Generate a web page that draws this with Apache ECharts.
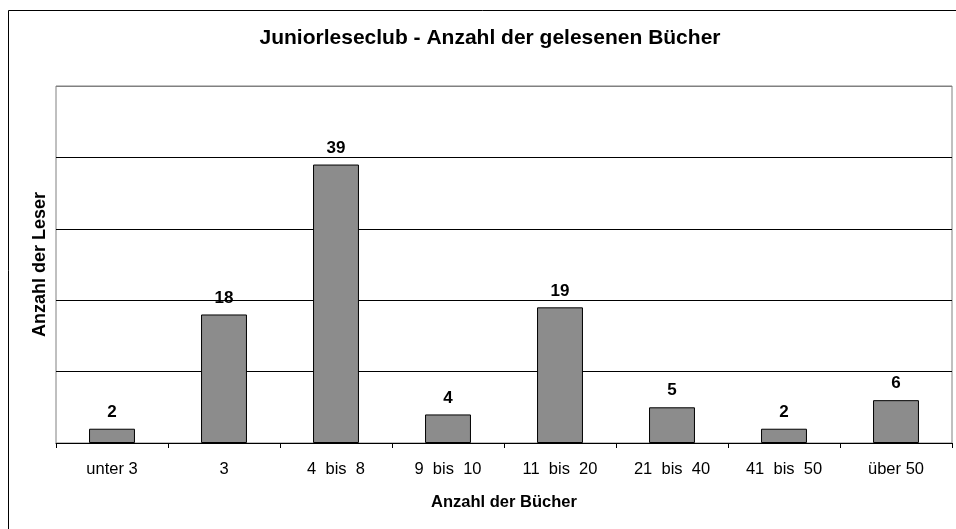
<!DOCTYPE html>
<html>
<head>
<meta charset="utf-8">
<script src="https://cdn.jsdelivr.net/npm/echarts@6/dist/echarts.min.js"></script>
<style>
  html, body { margin: 0; padding: 0; background: #fff; }
  #chart { width: 956px; height: 529px; }
</style>
</head>
<body>
<div id="chart"></div>
<script>
var categories = ["unter 3", "3", "4  bis  8", "9  bis  10", "11  bis  20", "21  bis  40", "41  bis  50", "über 50"];
var readers = [2, 18, 39, 4, 19, 5, 2, 6];

var myChart = echarts.init(document.getElementById("chart"));
var font = "Liberation Sans, Arial, sans-serif";

var option = {
  backgroundColor: "#fff",
  animation: false,
  title: {
    text: "Juniorleseclub - Anzahl der gelesenen Bücher",
    left: 485,
    textAlign: "center",
    top: 23,
    textStyle: { fontFamily: font, fontSize: 21, fontWeight: "bold", color: "#000" },
  },
  graphic: [
    {
      type: "rect",
      shape: { x: 8.5, y: 10.5, width: 980, height: 560 },
      style: { fill: "none", stroke: "#000", lineWidth: 1 },
      silent: true,
    },
  ],
  grid: {
    left: 56,
    right: 4,
    top: 86,
    bottom: 86,
    show: true,
    borderColor: "#808080",
    borderWidth: 1,
  },
  xAxis: {
    type: "category",
    data: categories,
    name: "Anzahl der Bücher",
    nameLocation: "middle",
    nameGap: 51,
    nameTextStyle: { fontFamily: font, fontSize: 16.5, fontWeight: "bold", color: "#000" },
    axisLine: { lineStyle: { color: "#000", width: 1 } },
    axisTick: { show: true, length: 5, lineStyle: { color: "#000" } },
    axisLabel: { fontFamily: font, fontSize: 16.5, color: "#000", margin: 18 },
  },
  yAxis: {
    type: "value",
    min: 0,
    max: 50,
    interval: 10,
    name: "Anzahl der Leser",
    nameLocation: "middle",
    nameGap: 7,
    nameRotate: 90,
    nameTextStyle: { fontFamily: font, fontSize: 18, fontWeight: "bold", color: "#000" },
    axisLine: { show: false },
    axisTick: { show: false },
    axisLabel: { show: false },
    splitLine: {
      show: true,
      lineStyle: { color: ["#000", "#000", "#000", "#000", "#000", "#808080"], width: 1 },
    },
  },
  series: [
    {
      type: "bar",
      data: readers,
      barWidth: "41%",
      itemStyle: { color: "#8c8c8c", borderColor: "#000", borderWidth: 1 },
      label: {
        show: true,
        position: "top",
        distance: 8,
        fontFamily: font,
        fontSize: 17,
        fontWeight: "bold",
        color: "#000",
      },
    },
  ],
};
myChart.setOption(option);
</script>
</body>
</html>
